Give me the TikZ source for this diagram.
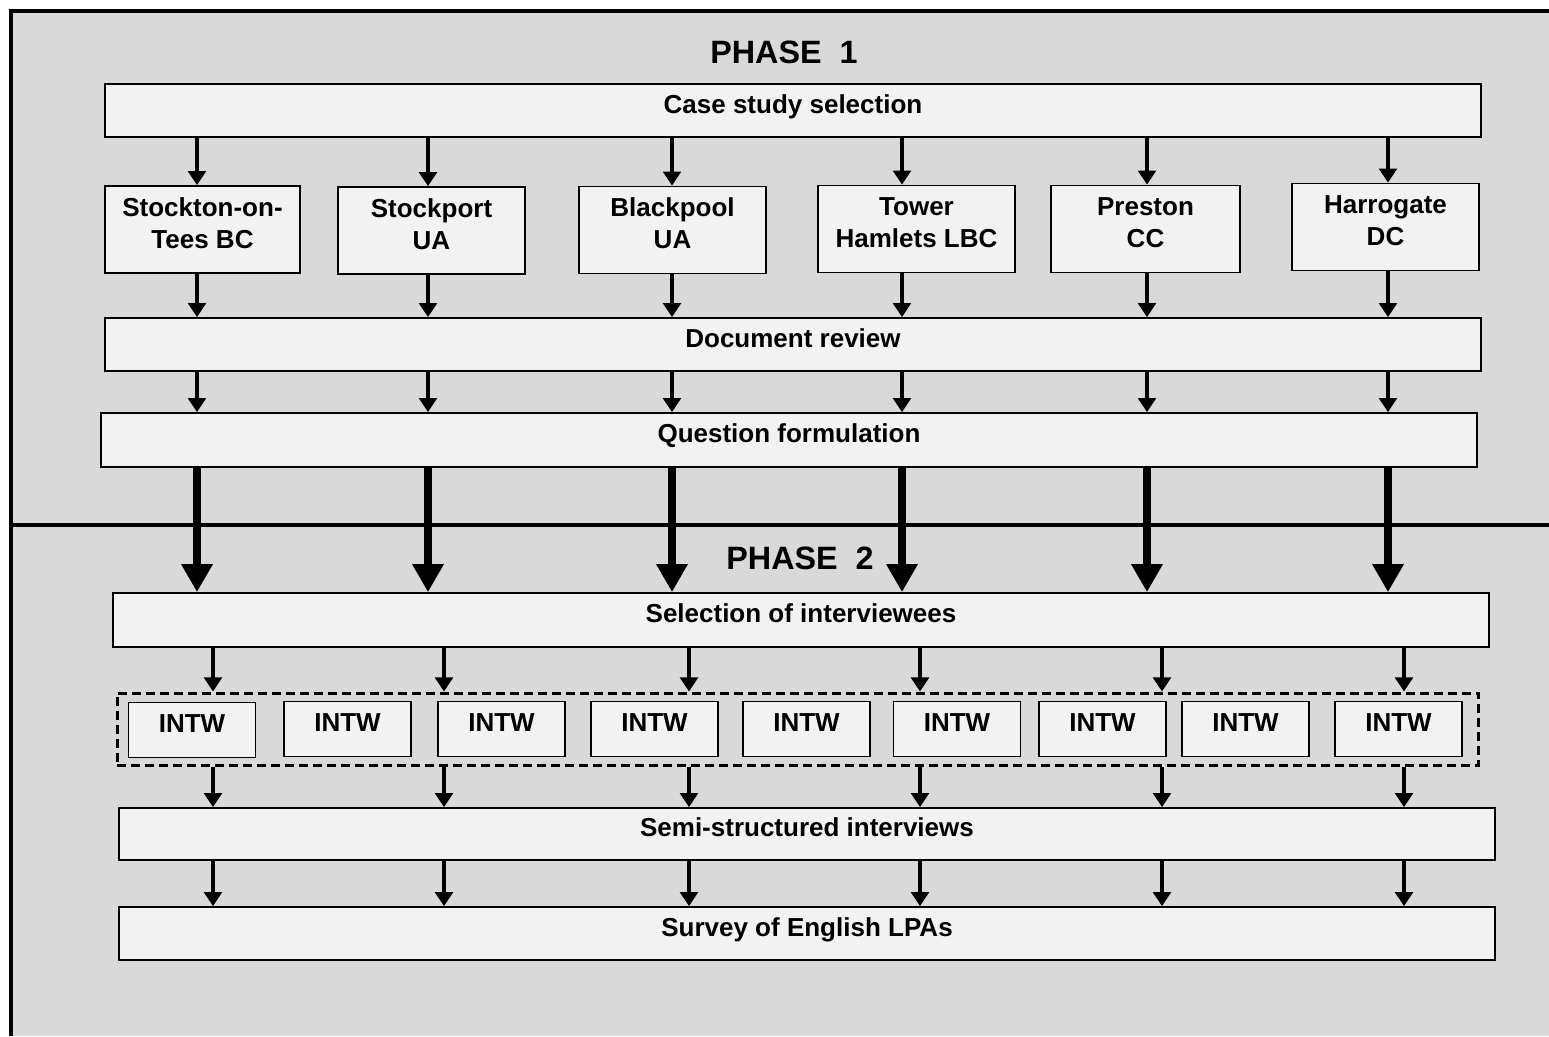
\documentclass[tikz,border=0pt]{standalone}
\usepackage{fontspec}
\setmainfont{Liberation Sans}
\usetikzlibrary{arrows.meta}
\definecolor{panelgray}{HTML}{D9D9D9}
\definecolor{boxfill}{HTML}{F2F2F2}

\begin{document}
\begin{tikzpicture}[x=0.02cm,y=-0.02cm,
  box/.style={draw, fill=boxfill, line width=1pt, align=center, inner sep=0pt,
    text depth=0.26cm, font=\fontsize{14.8}{18.2}\selectfont\bfseries},
  widebox/.style={box, minimum width=27.52cm, minimum height=1.06cm},
  town/.style={box, minimum height=1.74cm},
  intw/.style={box, minimum width=2.54cm, minimum height=1.1cm},
  arr/.style={line width=2.3pt, -{Triangle[width=10pt,length=8pt]}},
  bigarr/.style={line width=5pt, -{Triangle[width=17pt,length=16pt]}}]

\useasboundingbox (0,0) rectangle (1549,1036);

% background panel
\fill[white] (0,0) rectangle (1549,1036);
\fill[panelgray] (11,11) rectangle (1549,1036);
\draw[line width=2pt] (11,1036) -- (11,11) -- (1549,11);
\draw[line width=1.8pt] (11,525) -- (1549,525);

\node[font=\fontsize{18.4}{22}\selectfont\bfseries] (ph1) at (784,52) {PHASE\ \ 1};
\node[font=\fontsize{18.4}{22}\selectfont\bfseries] (ph2) at (800,558) {PHASE\ \ 2};

% column positions of the arrows
\coordinate (a1) at (197,0);
\coordinate (a2) at (428,0);
\coordinate (a3) at (672,0);
\coordinate (a4) at (902,0);
\coordinate (a5) at (1147,0);
\coordinate (a6) at (1388,0);
\coordinate (b1) at (213,0);
\coordinate (b2) at (444,0);
\coordinate (b3) at (689,0);
\coordinate (b4) at (920,0);
\coordinate (b5) at (1162,0);
\coordinate (b6) at (1404,0);

% phase 1
\node[widebox] (cs) at (793,110.5) {Case study selection};
\node[town, minimum width=3.9cm] (stk) at (202.5,229.5) {Stockton-on-\\Tees BC};
\node[town, minimum width=3.74cm] (stp) at (431.5,230.5) {Stockport\\UA};
\node[town, minimum width=3.74cm] (bla) at (672.5,230) {Blackpool\\UA};
\node[town, minimum width=3.94cm] (tow) at (916.5,229) {Tower\\Hamlets LBC};
\node[town, minimum width=3.78cm] (pre) at (1145.5,229) {Preston\\CC};
\node[town, minimum width=3.74cm] (har) at (1385.5,227) {Harrogate\\DC};
\node[widebox] (doc) at (793,344.5) {Document review};
\node[widebox, minimum height=1.08cm] (qf) at (789,440) {Question formulation};

% phase 2
\node[widebox, minimum height=1.08cm] (sel) at (801,620) {Selection of interviewees};
\node[draw, dashed, line width=1.7pt, dash pattern=on 0.18cm off 0.1cm,
  minimum width=27.24cm, minimum height=1.44cm] (grp) at (798,729) {};
\node[intw] (i1) at (192,730) {INTW};
\node[intw] (i2) at (347.5,729) {INTW};
\node[intw] (i3) at (501.5,729) {INTW};
\node[intw] (i4) at (654.5,729) {INTW};
\node[intw] (i5) at (806.5,729) {INTW};
\node[intw] (i6) at (957,729) {INTW};
\node[intw] (i7) at (1102.5,729) {INTW};
\node[intw] (i8) at (1245.5,729) {INTW};
\node[intw] (i9) at (1398.5,729) {INTW};
\node[widebox, minimum height=1.04cm] (semi) at (807,834) {Semi-structured interviews};
\node[widebox] (svy) at (807,933.5) {Survey of English LPAs};

% case study selection -> councils
\draw[arr] (cs.south -| a1) -- (stk.north -| a1);
\draw[arr] (cs.south -| a2) -- (stp.north -| a2);
\draw[arr] (cs.south -| a3) -- (bla.north -| a3);
\draw[arr] (cs.south -| a4) -- (tow.north -| a4);
\draw[arr] (cs.south -| a5) -- (pre.north -| a5);
\draw[arr] (cs.south -| a6) -- (har.north -| a6);

% councils -> document review
\draw[arr] (stk.south -| a1) -- (doc.north -| a1);
\draw[arr] (stp.south -| a2) -- (doc.north -| a2);
\draw[arr] (bla.south -| a3) -- (doc.north -| a3);
\draw[arr] (tow.south -| a4) -- (doc.north -| a4);
\draw[arr] (pre.south -| a5) -- (doc.north -| a5);
\draw[arr] (har.south -| a6) -- (doc.north -| a6);

% document review -> question formulation
\draw[arr] (doc.south -| a1) -- (qf.north -| a1);
\draw[arr] (doc.south -| a2) -- (qf.north -| a2);
\draw[arr] (doc.south -| a3) -- (qf.north -| a3);
\draw[arr] (doc.south -| a4) -- (qf.north -| a4);
\draw[arr] (doc.south -| a5) -- (qf.north -| a5);
\draw[arr] (doc.south -| a6) -- (qf.north -| a6);

% phase 1 -> phase 2
\draw[bigarr] (qf.south -| a1) -- (sel.north -| a1);
\draw[bigarr] (qf.south -| a2) -- (sel.north -| a2);
\draw[bigarr] (qf.south -| a3) -- (sel.north -| a3);
\draw[bigarr] (qf.south -| a4) -- (sel.north -| a4);
\draw[bigarr] (qf.south -| a5) -- (sel.north -| a5);
\draw[bigarr] (qf.south -| a6) -- (sel.north -| a6);

% selection -> interviews
\draw[arr] (sel.south -| b1) -- (grp.north -| b1);
\draw[arr] (sel.south -| b2) -- (grp.north -| b2);
\draw[arr] (sel.south -| b3) -- (grp.north -| b3);
\draw[arr] (sel.south -| b4) -- (grp.north -| b4);
\draw[arr] (sel.south -| b5) -- (grp.north -| b5);
\draw[arr] (sel.south -| b6) -- (grp.north -| b6);

\draw[arr] (grp.south -| b1) -- (semi.north -| b1);
\draw[arr] (grp.south -| b2) -- (semi.north -| b2);
\draw[arr] (grp.south -| b3) -- (semi.north -| b3);
\draw[arr] (grp.south -| b4) -- (semi.north -| b4);
\draw[arr] (grp.south -| b5) -- (semi.north -| b5);
\draw[arr] (grp.south -| b6) -- (semi.north -| b6);

\draw[arr] (semi.south -| b1) -- (svy.north -| b1);
\draw[arr] (semi.south -| b2) -- (svy.north -| b2);
\draw[arr] (semi.south -| b3) -- (svy.north -| b3);
\draw[arr] (semi.south -| b4) -- (svy.north -| b4);
\draw[arr] (semi.south -| b5) -- (svy.north -| b5);
\draw[arr] (semi.south -| b6) -- (svy.north -| b6);

\end{tikzpicture}
\end{document}
